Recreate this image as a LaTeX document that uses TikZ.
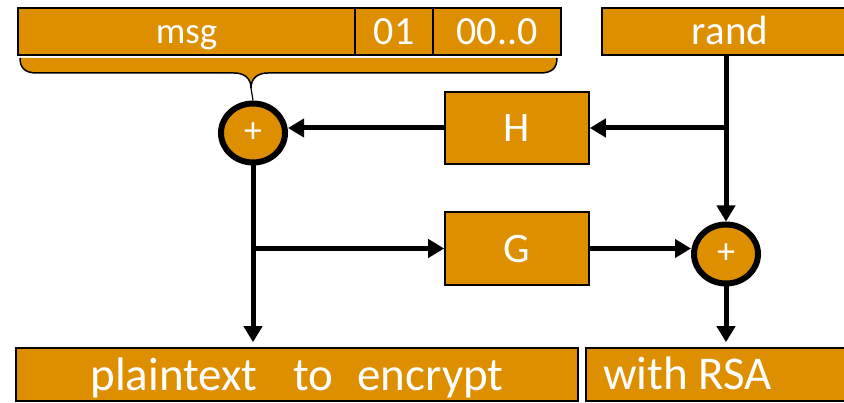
\documentclass[tikz,border=0pt]{standalone}
\usepackage{fontspec}
\setmainfont{Carlito}
\usetikzlibrary{arrows.meta,shapes.geometric}
\definecolor{boxorange}{RGB}{221,143,0}
\begin{document}
\begin{tikzpicture}[x=1pt,y=-1pt,
  box/.style={draw=black,line width=1.6pt,fill=boxorange,text=white,inner sep=0pt,rectangle},
  fs/.style={font=\fontsize{#1}{#1}\selectfont},
  base/.style={text height=#1,text depth=0pt},
  xorc/.style={ellipse,draw=black,line width=6pt,fill=boxorange,text=white,minimum width=64pt,minimum height=59pt,inner sep=0pt,font=\fontsize{36}{36}\selectfont},
  arr/.style={line width=5pt,-{Triangle[length=16pt,width=18pt]}},
  plainline/.style={line width=5pt}
]
\useasboundingbox (0,0) rectangle (844,403);
\fill[white] (0,0) rectangle (844,403);
% top boxes
\node[box,fs=37,base=25pt,minimum width=337pt,minimum height=47pt] (msg) at (186.5,31.5) {msg};
\node[box,fs=40,base=27pt,minimum width=78pt,minimum height=47pt] (n01) at (394,31.5) {01};
\node[box,fs=40,base=27pt,minimum width=128pt,minimum height=47pt] (n00) at (497,31.5) {00..0};
\node[box,fs=41,base=27pt,minimum width=256pt,minimum height=47pt] (rand) at (730,31.5) {rand};
% brace
\coordinate (btip) at (251,88);
\fill[boxorange] (20,58) -- (557,58) .. controls (557,68) and (552,73) .. (540,73)
  -- (268,73) .. controls (258,73) and (251,78) .. (btip)
  .. controls (251,78) and (244,73) .. (234,73) -- (37,73)
  .. controls (25,73) and (20,68) .. (20,58) -- cycle;
\draw[line width=1.5pt] (557,58) .. controls (557,68) and (552,73) .. (540,73)
  -- (268,73) .. controls (258,73) and (251,78) .. (btip)
  .. controls (251,78) and (244,73) .. (234,73) -- (37,73)
  .. controls (25,73) and (20,68) .. (20,58);
% middle
\node[box,fs=42,base=28pt,minimum width=144pt,minimum height=72pt] (H) at (517,128) {H};
\node[box,fs=42,base=28pt,minimum width=144pt,minimum height=73pt] (G) at (517,248.5) {G};
\node[xorc] (c1) at (253,133) {+};
\node[xorc] (c2) at (726,254) {+};
% bottom boxes
\node[box,fs=47,base=33pt,minimum width=562pt,minimum height=53pt] (plain) at (297,374.5) {plaintext\hspace{36pt}to\hspace{24pt}encrypt};
\node[box,minimum width=274pt,minimum height=53pt] (rsa) at (723,374.5) {};
\node[fs=47,text=white,anchor=base west,inner sep=0pt] (rsatext) at (603,390) {with RSA};
% connectors
\draw[line width=1.2pt] (btip) -- (c1.north);
\coordinate (j1) at (c2 |- H.east);
\draw[plainline] (c2 |- rand.south) -- (j1);
\draw[arr] (j1) -- (c2.north);
\draw[arr] (j1) -- (H.east);
\draw[arr] (H.west) -- (c1.east |- H.west);
\coordinate (j2) at (c1 |- G.west);
\draw[arr,shorten >=5pt] (c1.south) -- (c1.south |- plain.north);
\draw[arr] (j2) -- (G.west);
\draw[arr] (G.east) -- (c2.west |- G.east);
\draw[arr,shorten >=5pt] (c2.south) -- (c2.south |- rsa.north);
\end{tikzpicture}
\end{document}
